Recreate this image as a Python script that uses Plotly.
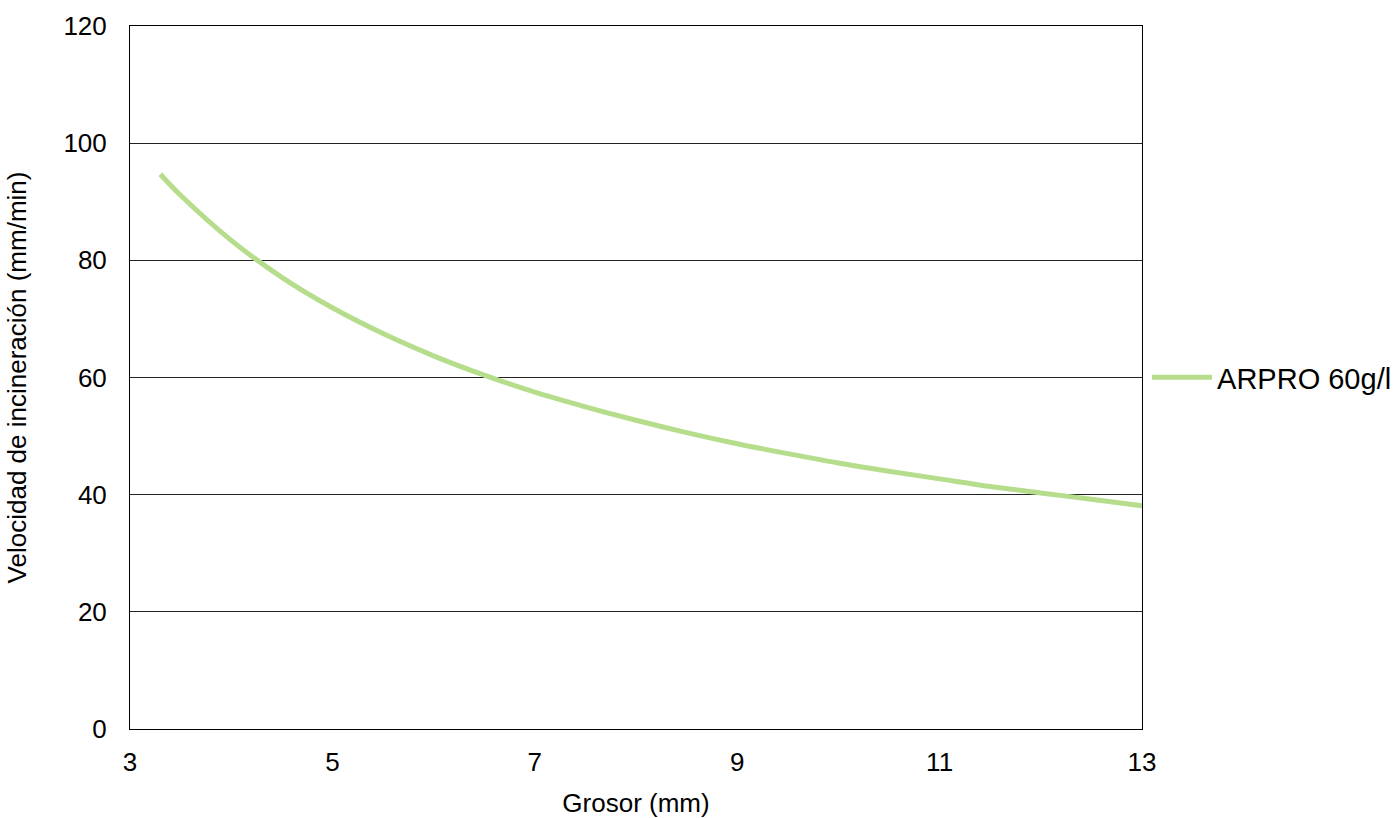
import plotly.graph_objects as go

grosor = [3.3, 3.5, 4.0, 4.5, 5.0, 5.5, 6.0, 6.5, 7.0, 7.5, 8.0, 8.5, 9.0, 9.5, 10.0, 10.5, 11.0, 11.5, 12.0, 12.5, 13.0]
velocidad = [94.7, 91.1, 83.4, 77.1, 71.9, 67.5, 63.7, 60.4, 57.5, 55.0, 52.7, 50.6, 48.7, 47.0, 45.4, 44.0, 42.7, 41.4, 40.3, 39.2, 38.1]
serie = "ARPRO 60g/l"
x_ticks = [3, 5, 7, 9, 11, 13]
y_ticks = [0, 20, 40, 60, 80, 100, 120]

font = "Liberation Sans, Arial, sans-serif"

fig = go.Figure()
fig.add_trace(go.Scatter(
    x=grosor, y=velocidad, mode="lines", name=serie,
    line=dict(color="#b5dd8c", width=5, shape="spline"),
))

fig.update_layout(
    width=1394, height=818,
    margin=dict(l=130, r=252, t=26, b=89, autoexpand=False),
    paper_bgcolor="white", plot_bgcolor="white",
    font=dict(family=font, size=26, color="black"),
    showlegend=True,
    legend=dict(x=1.005, y=0.5, xanchor="left", yanchor="middle",
                font=dict(size=29, family=font), itemwidth=60,
                bgcolor="rgba(0,0,0,0)"),
    xaxis=dict(range=[3, 13], tickvals=x_ticks, showgrid=False, automargin=False,
               showline=True, linecolor="black", linewidth=1, mirror=True,
               ticks="", ticklabelstandoff=10, zeroline=False,
               tickfont=dict(size=26),
               title=dict(text="Grosor (mm)", font=dict(size=26), standoff=17)),
    yaxis=dict(range=[0, 120], tickvals=y_ticks, showgrid=True, automargin=False,
               gridcolor="#222222", gridwidth=1,
               showline=True, linecolor="black", linewidth=1, mirror=True,
               ticks="", ticklabelstandoff=17, zeroline=False,
               tickfont=dict(size=26),
               title=dict(text="Velocidad de incineración (mm/min)", font=dict(size=26), standoff=29)),
)

fig.write_html("out.html", config={"displayModeBar": False},
               post_script="document.body.style.margin='0';document.body.style.overflow='hidden';")
